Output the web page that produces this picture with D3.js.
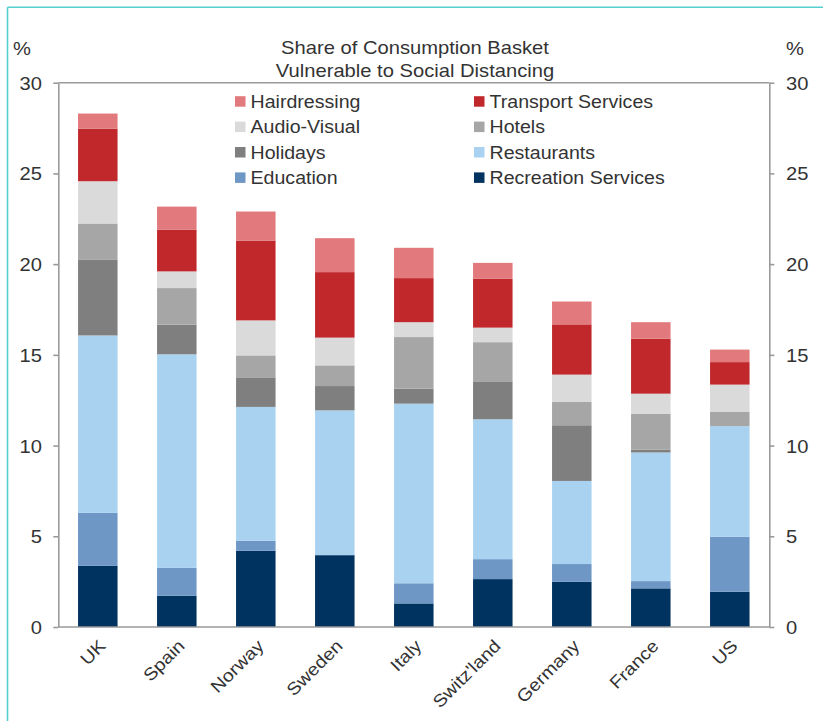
<!DOCTYPE html>
<html>
<head>
<meta charset="utf-8">
<script src="https://cdn.jsdelivr.net/npm/d3@7"></script>
<style>
  html, body { margin: 0; padding: 0; background: #ffffff; }
  svg { display: block; }
  text { font-family: "Liberation Sans", Arial, sans-serif; fill: #333333; }
</style>
</head>
<body>
<svg id="chart" width="823" height="721"></svg>
<script>
// ---------------- data ----------------
const categories = ["UK", "Spain", "Norway", "Sweden", "Italy", "Switz'land", "Germany", "France", "US"];
const recreation   = [3.37, 1.72, 4.20, 3.96, 1.30, 2.64, 2.49, 2.13, 1.94];
const education    = [2.92, 1.54, 0.55, 0.00, 1.11, 1.10, 0.98, 0.40, 3.03];
const restaurants  = [9.78, 11.77, 7.38, 7.98, 9.90, 7.71, 4.58, 7.09, 6.10];
const holidays     = [4.19, 1.63, 1.63, 1.34, 0.83, 2.09, 3.07, 0.16, 0.00];
const hotels       = [1.98, 2.02, 1.21, 1.14, 2.84, 2.16, 1.28, 1.98, 0.78];
const audioVisual  = [2.33, 0.92, 1.93, 1.53, 0.82, 0.80, 1.51, 1.10, 1.51];
const transport    = [2.90, 2.29, 4.40, 3.61, 2.43, 2.69, 2.77, 3.03, 1.24];
const hairdressing = [0.83, 1.28, 1.60, 1.87, 1.67, 0.88, 1.26, 0.91, 0.69];
const yTicks = [0, 5, 10, 15, 20, 25, 30];
const titleLines = ["Share of Consumption Basket", "Vulnerable to Social Distancing"];

// stacking order bottom -> top
const seriesNames = ["Recreation Services", "Education", "Restaurants", "Holidays", "Hotels", "Audio-Visual", "Transport Services", "Hairdressing"];
const seriesValues = [recreation, education, restaurants, holidays, hotels, audioVisual, transport, hairdressing];
const seriesColors = ["#00335f", "#6e97c6", "#a9d2f0", "#7f7f7f", "#a6a6a6", "#dadada", "#c0282c", "#e2797c"];
// legend layout (rows of two)
const legendOrder = ["Hairdressing", "Transport Services", "Audio-Visual", "Hotels", "Holidays", "Restaurants", "Education", "Recreation Services"];

// ---------------- build ----------------
const rows = categories.map((c, i) => {
  const r = { country: c };
  seriesNames.forEach((s, j) => r[s] = seriesValues[j][i]);
  return r;
});
const stacked = d3.stack().keys(seriesNames)(rows);
const color = d3.scaleOrdinal().domain(seriesNames).range(seriesColors);

const svg = d3.select("#chart");
const SX = 1.12; // horizontal stretch of the source text
const pLeft = 58.3, pRight = 769.3, pTop = 82.7, pBottom = 627;

const x = d3.scaleBand().domain(categories).range([pLeft, pRight]).paddingInner(0.5).paddingOuter(0.25);
const y = d3.scaleLinear().domain([0, 30]).range([pBottom, pTop]);

function stext(g, tx, ty, str, size, anchor, extra) {
  const grp = g.append("g").attr("transform", `translate(${tx},${ty}) ${extra || ""} scale(${SX},1)`);
  return grp.append("text").attr("x", 0).attr("y", 0)
    .attr("font-size", size).attr("text-anchor", anchor || "start").text(str);
}

// teal frame
svg.append("line").attr("x1", 7.5).attr("x2", 7.5).attr("y1", 7.3).attr("y2", 721)
  .attr("stroke", "#55cfd0").attr("stroke-width", 1.6);
svg.append("line").attr("x1", 7.5).attr("x2", 823).attr("y1", 7.3).attr("y2", 7.3)
  .attr("stroke", "#55cfd0").attr("stroke-width", 1.6);

// bars
svg.append("g").selectAll("g").data(stacked).join("g")
  .attr("fill", d => color(d.key))
  .selectAll("rect").data(d => d).join("rect")
  .attr("x", d => x(d.data.country))
  .attr("width", x.bandwidth())
  .attr("y", d => y(d[1]))
  .attr("height", d => Math.max(0, y(d[0]) - y(d[1])));

// box lines (top and bottom)
const axisColor = "#9a9a9a";
svg.append("line").attr("x1", pLeft).attr("x2", pRight).attr("y1", y(30)).attr("y2", y(30))
  .attr("stroke", axisColor).attr("stroke-width", 1.6);
svg.append("line").attr("x1", pLeft).attr("x2", pRight).attr("y1", y(0)).attr("y2", y(0))
  .attr("stroke", axisColor).attr("stroke-width", 1.6);

// axes
const axL = svg.append("g").attr("transform", `translate(${pLeft},0)`)
  .call(d3.axisLeft(y).tickValues(yTicks).tickSize(5).tickSizeOuter(0).tickPadding(11));
const axR = svg.append("g").attr("transform", `translate(${pRight},0)`)
  .call(d3.axisRight(y).tickValues(yTicks).tickSize(5).tickSizeOuter(0).tickPadding(11));
[axL, axR].forEach((ax, k) => {
  ax.select(".domain").attr("stroke", axisColor).attr("stroke-width", 1.6);
  ax.selectAll(".tick line").attr("stroke", axisColor).attr("stroke-width", 1.6);
  ax.selectAll(".tick text")
    .attr("font-size", 18).attr("font-family", "Liberation Sans, Arial, sans-serif").attr("fill", "#333")
    .attr("x", 0).attr("dy", "0.36em")
    .attr("transform", `translate(${k === 0 ? -16.3 : 16.7},0) scale(${SX},1)`);
});

// % labels
stext(svg, 13, 55, "%", 18, "start");
stext(svg, 786, 55, "%", 18, "start");

// title
titleLines.forEach((t, i) => stext(svg, 415, 54 + i * 22.5, t, 18, "middle"));

// legend
const legend = svg.append("g");
legendOrder.forEach((name, i) => {
  const col = i % 2, row = Math.floor(i / 2);
  const lx = col === 0 ? 235 : 474;
  const ly = 101.7 + row * 25.4;
  legend.append("rect").attr("x", lx).attr("y", ly - 5.5).attr("width", 10.5).attr("height", 10.5)
    .attr("fill", color(name));
  stext(legend, lx + 15.5, ly + 6.3, name, 17.5, "start");
});

// country labels
const xl = svg.append("g");
categories.forEach(c => {
  const cx = x(c) + x.bandwidth() / 2;
  stext(xl, cx + 9, 647, c, 17.5, "end", "rotate(-45)");
});
</script>
</body>
</html>
